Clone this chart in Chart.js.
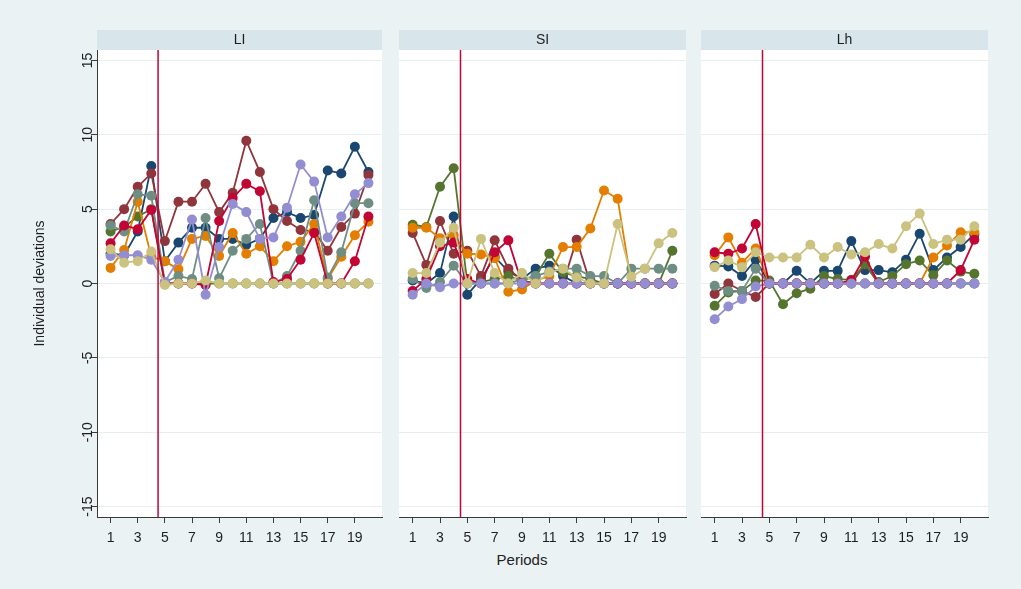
<!DOCTYPE html>
<html>
<head>
<meta charset="utf-8">
<script src="https://cdn.jsdelivr.net/npm/chart.js@4"></script>
<style>
body{margin:0;background:#eaf2f3;font-family:"Liberation Sans",Arial,sans-serif}
#wrap{position:relative;width:1021px;height:589px;overflow:hidden;background:#eaf2f3}
.panel{position:absolute;top:30px;height:517px}
#xtitle{position:absolute;top:551px;left:422px;width:200px;text-align:center;font-size:15px;color:#222}
</style>
</head>
<body>
<div id="wrap">
  <div class="panel" style="left:0px;width:387px"><canvas id="c0"></canvas></div>
  <div class="panel" style="left:394px;width:297px"><canvas id="c1"></canvas></div>
  <div class="panel" style="left:696px;width:297px"><canvas id="c2"></canvas></div>
  <div id="xtitle">Periods</div>
</div>
<script>
// periods on the x axis
const periods=[1,2,3,4,5,6,7,8,9,10,11,12,13,14,15,16,17,18,19,20]
const xTickValues=[1,3,5,7,9,11,13,15,17,19]
const xTickLabels=['1','3','5','7','9','11','13','15','17','19']
const yTickValues=[-15,-10,-5,0,5,10,15]
const yTickLabels=['-15','-10','-5','0','5','10','15']
const panelNames=['LI','SI','Lh']
const xLineAt=4.5

// LI panel
const LI_1=[2.0,1.9,3.5,7.9,1.5,2.75,3.75,3.75,3.0,3.0,2.6,3.0,4.4,4.8,4.4,4.6,7.6,7.4,9.2,7.5]
const LI_2=[4.0,5.0,6.5,7.4,2.85,5.5,5.5,6.7,4.8,6.1,9.6,7.5,5.0,4.2,3.6,3.5,2.2,3.8,4.7,7.3]
const LI_3=[3.5,3.8,4.5,5.0,0,0,0,0,0,0,0,0,0,0,0,0,0,0,0,0]
const LI_4=[1.05,2.25,5.5,1.8,1.5,0.95,3.0,3.2,1.85,3.4,2.0,2.5,1.5,2.5,2.8,4.0,0.3,1.8,3.25,4.15]
const LI_5=[3.9,3.5,6.0,5.9,0.1,0.5,0.3,4.4,0.35,2.2,3.0,4.0,0,0.5,2.2,5.6,0.4,2.1,5.4,5.4]
const LI_6=[2.7,3.9,3.65,4.95,0,0,0,-0.1,4.2,5.75,6.7,6.2,0.1,0.3,1.6,3.4,0,0,1.5,4.5]
const LI_7=[1.85,1.9,1.9,1.6,0.1,1.6,4.3,-0.75,2.45,5.35,4.8,3.0,3.1,5.1,8.0,6.85,3.1,4.5,6.0,6.75]
const LI_8=[2.3,1.4,1.5,2.15,-0.1,0,0,0.2,0,0,0,0,0,0,0,0,0,0,0,0]

// SI panel
const SI_1=[0.2,0.0,0.7,4.5,-0.75,0.3,1.8,0.8,0.3,1.0,1.2,0.5,0,0,0,0,0,0,0,0]
const SI_2=[3.4,1.25,4.2,2.0,2.2,0.5,2.9,1.0,0.2,0,0,0,2.95,0,0,0,0,0,0,0]
const SI_3=[3.95,3.8,6.5,7.75,0,0.1,0.3,0.5,0.2,0.5,2.0,0.75,0.5,0.3,0,0,0,0,0,2.2]
const SI_4=[3.75,3.75,3.05,3.25,2.0,1.95,1.7,-0.55,-0.4,0.2,0.5,2.45,2.45,3.7,6.25,5.7,0,0,0,0]
const SI_5=[0.3,-0.3,0.1,1.2,0,0,0,0,0.3,0.5,0.8,1.0,1.0,0.5,0.5,0,1.0,1.0,1.0,1.0]
const SI_6=[-0.5,0.3,2.5,2.75,0.3,0,2.1,2.9,0,0,0,0,0,0,0,0,0,0,0,0]
const SI_7=[-0.75,0,-0.25,0,0,0,0,0,0,0,0,0,0,0,0,0,0,0,0,0]
const SI_8=[0.7,0.7,2.75,3.75,0,3.0,0.7,0,0.7,0,0.75,1.0,0.4,0,0,4.0,0.45,1.0,2.7,3.4]

// Lh panel
const LH_1=[1.2,1.15,0.5,1.6,0,0,0.85,0,0.85,0.85,2.85,0.9,0.9,0.75,1.6,3.35,0.9,1.75,2.45,3.3]
const LH_2=[-0.7,0,-0.5,-0.9,0,0,0,0,0,0,0,1.3,0,0,0,0,0,0,0,0]
const LH_3=[-1.5,-0.6,-0.5,0.2,0.2,-1.4,-0.65,-0.35,0.5,0.3,0.25,1.3,0.1,0.5,1.3,1.55,0.55,1.55,0.8,0.65]
const LH_4=[1.9,3.1,1.4,2.35,0,0,0,0,0,0,0,0,0,0,0,0,1.75,2.55,3.45,3.45]
const LH_5=[-0.15,-0.5,-0.5,1.0,0,0,0,0,0,0,0,0,0,0,0,0,0,0,0,0]
const LH_6=[2.1,2.0,2.35,4.0,0,0,0,0,0,0,0.2,1.8,0,0,0,0,0,0,0.9,2.95]
const LH_7=[-2.4,-1.55,-1.05,-0.2,0,0,0,0,0,0,0,0,0,0,0,0,0,0,0,0]
const LH_8=[1.1,1.55,1.1,2.1,1.75,1.75,1.75,2.6,1.75,2.45,1.95,2.1,2.65,2.35,3.85,4.7,2.65,2.95,2.95,3.85]

const panelSeries=[
  [LI_1,LI_2,LI_3,LI_4,LI_5,LI_6,LI_7,LI_8],
  [SI_1,SI_2,SI_3,SI_4,SI_5,SI_6,SI_7,SI_8],
  [LH_1,LH_2,LH_3,LH_4,LH_5,LH_6,LH_7,LH_8]
]

const colors=['#1a476f','#90353b','#55752f','#e37e00','#6e8e84','#c10534','#938dd2','#cac27e']
const fontName='"Liberation Sans", Arial, sans-serif'
const axisColor='#3a3a3a'

const panelDeco={
  id:'panelDeco',
  beforeDraw(chart,args,opts){
    const ctx=chart.ctx
    const a=chart.chartArea
    ctx.save()
    ctx.fillStyle='#ffffff'
    ctx.fillRect(a.left,a.top,a.right-a.left,a.bottom-a.top)
    ctx.fillStyle='#d8e5ea'
    ctx.fillRect(a.left,a.top-20,a.right-a.left,20)
    ctx.fillStyle='#1e1e1e'
    ctx.font='14px '+fontName
    ctx.textAlign='center'
    ctx.textBaseline='middle'
    ctx.fillText(opts.title,(a.left+a.right)/2,a.top-10)
    ctx.restore()
  },
  afterDraw(chart,args,opts){
    const ctx=chart.ctx
    const a=chart.chartArea
    const xs=chart.scales.x
    const ys=chart.scales.y
    ctx.save()
    // vertical reference line
    const lx=xs.getPixelForValue(xLineAt)
    ctx.strokeStyle='#c10534'
    ctx.lineWidth=1.5
    ctx.beginPath()
    ctx.moveTo(lx,a.top)
    ctx.lineTo(lx,a.bottom)
    ctx.stroke()
    if(opts.first){
      ctx.fillStyle='#1e1e1e'
      ctx.font='14px '+fontName
      ctx.textAlign='center'
      ctx.textBaseline='middle'
      for(let i=0;i<yTickValues.length;i++){
        const y=ys.getPixelForValue(yTickValues[i])
        ctx.save()
        ctx.translate(a.left-9,y)
        ctx.rotate(-Math.PI/2)
        ctx.fillText(yTickLabels[i],0,0)
        ctx.restore()
      }
      ctx.save()
      ctx.translate(40,(a.top+a.bottom)/2)
      ctx.rotate(-Math.PI/2)
      ctx.fillText('Individual deviations',0,0)
      ctx.restore()
    }
    ctx.restore()
  }
}

function make_panel(idx){
  const datasets=[]
  const series=panelSeries[idx]
  for(let i=0;i<series.length;i++){
    const vals=series[i]
    datasets.push({
      data:periods.map((p,k)=>({x:p,y:vals[k]})),
      borderColor:colors[i],
      backgroundColor:colors[i],
      pointBackgroundColor:colors[i],
      pointBorderWidth:0,
      pointRadius:5,
      borderWidth:1.8,
      tension:0,
      order:series.length-i
    })
  }
  const first=idx==0
  return new Chart('c'+idx,{
    type:'line',
    data:{datasets:datasets},
    plugins:[panelDeco],
    options:{
      responsive:true,
      maintainAspectRatio:false,
      animation:false,
      layout:{padding:{top:20,left:0,right:0,bottom:0}},
      plugins:{legend:{display:false},tooltip:{enabled:false},panelDeco:{title:panelNames[idx],first:first}},
      scales:{
        x:{
          type:'linear',min:0,max:21,
          afterBuildTicks:s=>{s.ticks=xTickValues.map(v=>({value:v}))},
          afterFit:s=>{s.height=30},
          ticks:{
            autoSkip:false,maxRotation:0,padding:7,color:'#1e1e1e',
            font:{family:fontName,size:14},
            callback:v=>xTickLabels[xTickValues.indexOf(v)]
          },
          grid:{drawOnChartArea:false,tickLength:6,color:axisColor},
          border:{display:true,color:axisColor,width:1}
        },
        y:{
          type:'linear',min:-15.7,max:15.7,
          afterBuildTicks:s=>{s.ticks=yTickValues.map(v=>({value:v}))},
          afterFit:s=>{s.width=first?97:0},
          ticks:{display:false},
          grid:{color:'#e6eef1',lineWidth:1,tickColor:axisColor,tickLength:first?6:0,drawTicks:first},
          border:{display:first,color:axisColor,width:1}
        }
      }
    }
  })
}

make_panel(0)
make_panel(1)
make_panel(2)
</script>
</body>
</html>
